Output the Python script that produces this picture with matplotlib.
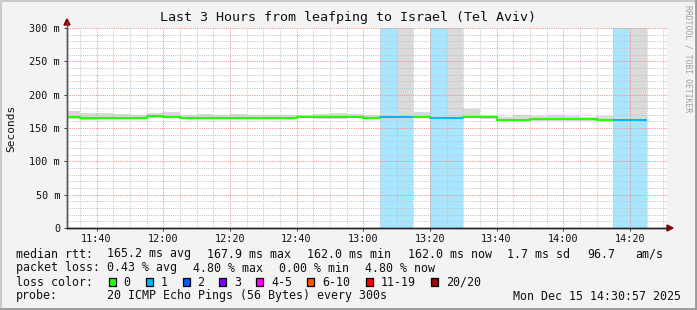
import matplotlib
matplotlib.use("Agg")
import matplotlib.pyplot as plt
from matplotlib.patches import Polygon, Rectangle
from matplotlib.lines import Line2D
import numpy as np

# 5 minute steps (start of each step)
steps = ["11:30", "11:35", "11:40", "11:45", "11:50", "11:55", "12:00", "12:05",
         "12:10", "12:15", "12:20", "12:25", "12:30", "12:35", "12:40", "12:45",
         "12:50", "12:55", "13:00", "13:05", "13:10", "13:15", "13:20", "13:25",
         "13:30", "13:35", "13:40", "13:45", "13:50", "13:55", "14:00", "14:05",
         "14:10", "14:15", "14:20"]
median = [166.5, 165.5, 165.5, 165.2, 165.0, 167.9, 167.0, 165.3,
          165.5, 165.4, 165.2, 165.3, 165.0, 165.2, 167.0, 166.5,
          166.0, 166.8, 164.5, 166.0, 166.5, 167.0, 165.5, 165.5,
          167.0, 166.0, 162.0, 162.5, 162.8, 163.0, 163.0, 162.8,
          162.5, 162.0, 162.0]
smoke_lo = [163.5, 162.5, 163.0, 163.0, 163.0, 165.0, 164.5, 163.0,
            163.0, 163.0, 163.0, 163.0, 163.0, 163.0, 164.5, 164.0,
            164.0, 164.5, 163.0, 164.0, 164.0, 165.0, 163.5, 163.5,
            165.0, 164.0, 160.0, 160.5, 161.0, 161.0, 161.0, 161.0,
            160.5, 160.0, 160.0]
smoke_hi = [175.0, 172.0, 172.0, 171.0, 170.0, 173.0, 174.0, 170.0,
            171.0, 170.0, 171.0, 170.0, 169.0, 169.0, 170.0, 171.0,
            172.0, 171.0, 170.0, 172.0, 300.0, 174.0, 169.0, 300.0,
            178.0, 170.0, 167.0, 169.0, 168.0, 169.0, 168.0, 167.0,
            168.0, 166.0, 300.0]
loss = [0, 0, 0, 0, 0, 0, 0, 0, 0, 0, 0, 0, 0, 0, 0, 0, 0, 0, 0,
        1, 1, 0, 1, 1, 0, 0, 0, 0, 0, 0, 0, 0, 0, 1, 1]

x_ticks = ["11:40", "12:00", "12:20", "12:40", "13:00", "13:20", "13:40", "14:00", "14:20"]
y_ticks = [0, 50, 100, 150, 200, 250, 300]
y_labels = ["0", "50 m", "100 m", "150 m", "200 m", "250 m", "300 m"]

loss_names = ["0", "1", "2", "3", "4-5", "6-10", "11-19", "20/20"]
loss_colors = ["#26ff00", "#00b8ff", "#0059ff", "#7e00ff", "#ff00ff", "#ff5500", "#ff0000", "#a10000"]


def mins(s):
    h, m = s.split(":")
    return int(h) * 60 + int(m)


W, H = 697, 310
MONO = "DejaVu Sans Mono"
BG = "#f3f3f3"


def px(x, y):
    return x / W, 1 - y / H


t0 = np.array([mins(s) for s in steps], dtype=float)
edges = np.append(t0, t0[-1] + 5)
median = np.array(median)

fig = plt.figure(figsize=(W / 100, H / 100), dpi=100, facecolor=BG)
ax = fig.add_axes([67 / W, (H - 228) / H, 600 / W, 200 / H])
ax.set_facecolor("white")

x_start = mins("11:31") + 0.15
ax.set_xlim(x_start, x_start + 180)
ax.set_ylim(0, 300)

# loss background
for i, l in enumerate(loss):
    if l > 0:
        ax.axvspan(edges[i], edges[i + 1], color="#a8e6ff", lw=0, zorder=1)

# smoke
ax.stairs(smoke_hi, edges, baseline=smoke_lo, fill=True, color="#dadada", lw=0, zorder=2)
ax.stairs(median + 1.5, edges, baseline=median - 1.5, fill=True, color="#a9a9a9", lw=0, zorder=2)

# median line coloured by loss
ax.stairs(median, edges, baseline=None, color=loss_colors[0], lw=1.5, zorder=4)
for i, l in enumerate(loss):
    if l > 0:
        ax.hlines(median[i], edges[i], edges[i + 1], color=loss_colors[l], lw=1.5, zorder=5)

# grid
ax.set_xticks([mins(s) for s in x_ticks])
ax.set_xticklabels(x_ticks)
ax.set_xticks(np.arange(695, 875, 5), minor=True)
ax.set_yticks(y_ticks)
ax.set_yticklabels(y_labels)
ax.set_yticks(np.arange(0, 301, 10), minor=True)
ax.set_axisbelow(False)
ax.grid(which="minor", color="#c4c4c4", lw=0.72, ls=(0, (1, 1.2)))
ax.grid(which="major", color="#ee8c8c", lw=0.72, ls=(0, (1, 1.2)))

ax.tick_params(which="major", direction="out", length=2.2, width=0.72, color="#404040",
               labelsize=7.3, labelcolor="#111111")
ax.tick_params(axis="x", pad=1.8)
ax.tick_params(axis="y", pad=2.8)
ax.tick_params(which="minor", length=0)
for lab in ax.get_xticklabels() + ax.get_yticklabels():
    lab.set_family(MONO)

for sp in ["top", "right"]:
    ax.spines[sp].set_visible(False)
ax.spines["left"].set_color("#555555")
ax.spines["bottom"].set_color("#222222")
ax.spines["left"].set_linewidth(1.0)
ax.spines["bottom"].set_linewidth(1.0)

# axis extensions and arrows
fig.add_artist(Line2D([67 / W, 67 / W], [1 - 228 / H, 1 - 22 / H], color="#555555", lw=1.0))
fig.add_artist(Line2D([67 / W, 669 / W], [1 - 228 / H, 1 - 228 / H], color="#222222", lw=1.0))
fig.add_artist(Polygon([px(64, 25), px(70, 25), px(67, 19)], closed=True,
                       color="#8b0000", transform=fig.transFigure))
fig.add_artist(Polygon([px(667, 225), px(667, 231), px(673, 228)], closed=True,
                       color="#8b0000", transform=fig.transFigure))

# title and labels
fig.text(*px(348, 18), "Last 3 Hours from leafping to Israel (Tel Aviv)", family=MONO,
         fontsize=9.6, ha="center", va="center", color="#111111")
fig.text(*px(11, 128), "Seconds", family=MONO, fontsize=8.0, rotation=90,
         ha="center", va="center", color="#111111")
fig.text(*px(688, 5), "RRDTOOL / TOBI OETIKER", family=MONO, fontsize=5.8, rotation=270,
         ha="center", va="top", color="#a0a0a0")

# legend rows
LS = 8.4
rows = [
    (254, [(16, "median rtt:"), (107, "165.2 ms avg"), (207, "167.9 ms max"),
           (307, "162.0 ms min"), (408, "162.0 ms now"), (507, "1.7 ms sd"),
           (587, "96.7"), (635, "am/s")]),
    (268, [(16, "packet loss:"), (107, "0.43 % avg"), (193, "4.80 % max"),
           (279, "0.00 % min"), (365, "4.80 % now")]),
    (296, [(16, "probe:"), (107, "20 ICMP Echo Pings (56 Bytes) every 300s")]),
]
for y, items in rows:
    for x, s in items:
        fig.text(*px(x, y), s, family=MONO, fontsize=LS, ha="left", va="center", color="#111111")
fig.text(*px(681, 296), "Mon Dec 15 14:30:57 2025", family=MONO, fontsize=LS,
         ha="right", va="center", color="#111111")

fig.text(*px(16, 282), "loss color:", family=MONO, fontsize=LS, ha="left", va="center", color="#111111")
box_x = [108.5, 146, 182.5, 219, 256, 307, 365.5, 431]
for bx, name, col in zip(box_x, loss_names, loss_colors):
    fig.add_artist(Rectangle(px(bx, 286), 7 / W, 8 / H, transform=fig.transFigure,
                             facecolor=col, edgecolor="black", lw=0.9))
    fig.text(*px(bx + 15, 282), name, family=MONO, fontsize=LS, ha="left", va="center", color="#111111")

# 3d frame
fig.add_artist(Line2D([0, 1], [1 - 0.5 / H, 1 - 0.5 / H], color="#cbcbcb", lw=1.5))
fig.add_artist(Line2D([0.5 / W, 0.5 / W], [0, 1], color="#cbcbcb", lw=1.5))
fig.add_artist(Line2D([0, 1], [1.2 / H, 1.2 / H], color="#999999", lw=2.0))
fig.add_artist(Line2D([1 - 1.2 / W, 1 - 1.2 / W], [0, 1], color="#999999", lw=2.0))

fig.savefig("out.png", dpi=100, facecolor=BG)
